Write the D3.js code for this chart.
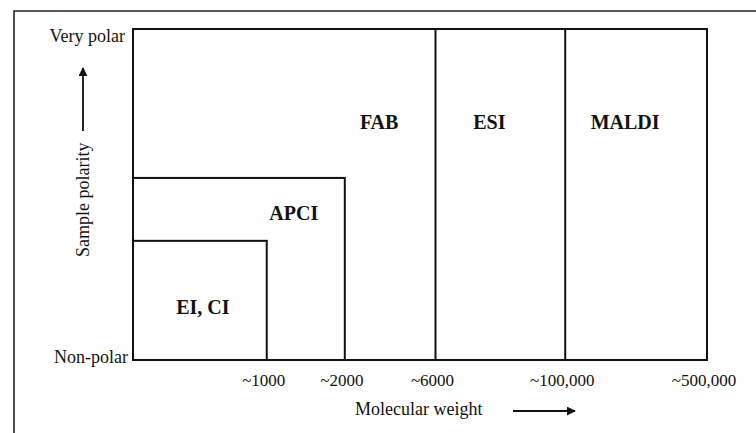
<!DOCTYPE html>
<html lang="en">
<head>
    <meta charset="UTF-8">
    <title>Ionization methods</title>
    <script src="https://d3js.org/d3.v7.min.js"></script>
    <style>
        body { margin: 0; background: #fff; }
        svg { display: block; }
        text { font-family: "Liberation Serif", "DejaVu Serif", serif; fill: #111; }
        .region-label { font-size: 20px; font-weight: bold; text-anchor: middle; }
        .tick-label { font-size: 17px; text-anchor: middle; }
        .axis-label { font-size: 18px; }
    </style>
</head>
<body>
    <svg id="chart" width="756" height="433"></svg>
    <script>
        // ionisation methods, their upper mass limit and the highest polarity they cover (0 = non-polar, 1 = very polar)
        const methods = ["EI, CI", "APCI", "FAB", "ESI", "MALDI"];
        const massLimits = ["~1000", "~2000", "~6000", "~100,000", "~500,000"];
        const polarityTop = [0.36, 0.55, 1, 1, 1];
        const polarityLabels = ["Non-polar", "Very polar"];

        const svg = d3.select("#chart");
        const W = 756, H = 433;
        const plot = { left: 133, right: 707, top: 29, bottom: 360 };

        // schematic (not to scale) mass axis: boundary index -> position
        const x = d3.scaleLinear()
            .domain([0, 1, 2, 3, 4, 5])
            .range([0, 0.233, 0.369, 0.527, 0.753, 1].map(f => plot.left + f * (plot.right - plot.left)));
        const y = d3.scaleLinear().domain([0, 1]).range([plot.bottom, plot.top]);

        // outer frame (runs off the page at the right and bottom)
        svg.append("path")
            .attr("d", `M14,${H + 5} L14,11 L${W + 5},11`)
            .attr("fill", "none").attr("stroke", "#222").attr("stroke-width", 1.6);

        // arrow heads
        const defs = svg.append("defs");
        defs.append("marker")
            .attr("id", "arrow")
            .attr("viewBox", "0 0 10 10")
            .attr("refX", 9).attr("refY", 5)
            .attr("markerWidth", 5).attr("markerHeight", 5)
            .attr("orient", "auto")
            .append("path").attr("d", "M0,0 L10,5 L0,10 Z").attr("fill", "#111");

        // regions, drawn as boxes from the origin
        const g = svg.append("g");
        methods.forEach((m, i) => {
            g.append("rect")
                .attr("x", x(0))
                .attr("y", y(polarityTop[i]))
                .attr("width", x(i + 1) - x(0))
                .attr("height", y(0) - y(polarityTop[i]))
                .attr("fill", "none")
                .attr("stroke", "#111")
                .attr("stroke-width", 2);
        });

        // region labels
        methods.forEach((m, i) => {
            const lo = i === 0 ? 0 : polarityTop[i - 1];
            const hi = polarityTop[i];
            let cx, cy;
            if (i === 0) {
                cx = (x(0) + x(1)) / 2 + 3;
                cy = (y(0) + y(hi)) / 2 + 7;
            } else if (hi < 1) {
                cx = (x(i) + x(i + 1)) / 2 - 12;
                cy = (y(lo) + y(hi)) / 2 + 4;
            } else {
                cx = (x(i) + x(i + 1)) / 2 - 11;
                cy = y(0.72);
            }
            svg.append("text")
                .attr("class", "region-label")
                .attr("x", cx).attr("y", cy)
                .attr("dy", "0.35em")
                .text(m);
        });

        // mass tick labels
        massLimits.forEach((t, i) => {
            svg.append("text")
                .attr("class", "tick-label")
                .attr("x", x(i + 1) - 3)
                .attr("y", plot.bottom + 26)
                .text(t);
        });

        // polarity labels
        svg.append("text").attr("class", "axis-label")
            .attr("x", plot.left - 5).attr("y", y(0) + 3)
            .attr("text-anchor", "end").text(polarityLabels[0]);
        svg.append("text").attr("class", "axis-label")
            .attr("x", plot.left - 8).attr("y", y(1) + 13)
            .attr("text-anchor", "end").text(polarityLabels[1]);

        // y title with arrow
        svg.append("text").attr("class", "axis-label")
            .attr("transform", "translate(89,257) rotate(-90)")
            .attr("text-anchor", "start")
            .text("Sample polarity");
        svg.append("line")
            .attr("x1", 83).attr("x2", 83)
            .attr("y1", 131).attr("y2", 68)
            .attr("stroke", "#111").attr("stroke-width", 1.8)
            .attr("marker-end", "url(#arrow)");

        // x title with arrow
        svg.append("text").attr("class", "axis-label")
            .attr("x", 355).attr("y", 415)
            .text("Molecular weight");
        svg.append("line")
            .attr("x1", 513).attr("x2", 575)
            .attr("y1", 411).attr("y2", 411)
            .attr("stroke", "#111").attr("stroke-width", 1.8)
            .attr("marker-end", "url(#arrow)");
    </script>
</body>
</html>
